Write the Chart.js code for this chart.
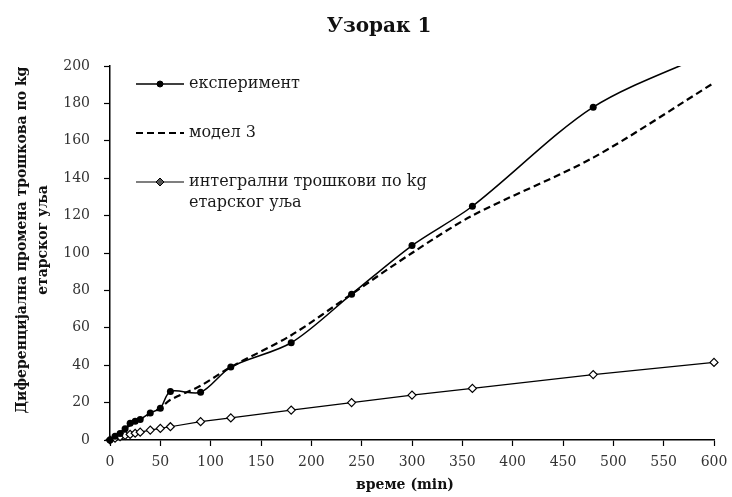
<!DOCTYPE html>
<html>
<head>
<meta charset="utf-8">
<script src="https://cdn.jsdelivr.net/npm/chart.js@4.4.0/dist/chart.umd.min.js"></script>
<style>
  html, body { margin: 0; padding: 0; background: #fff; }
</style>
</head>
<body>
<canvas id="myChart" width="732" height="497"></canvas>
<script>
// time in minutes
const times = [0, 5, 10, 15, 20, 25, 30, 40, 50, 60, 90, 120, 180, 240, 300, 360, 480, 600];
const experiment = [0, 2, 3.5, 6, 9, 10, 11, 14.5, 17, 26, 25.5, 39, 52, 78, 104, 125, 178, 208];
const model3 = [0, 2, 4, 6, 8, 9.5, 11, 14, 17, 21.5, 29, 39, 56, 78, 100, 120, 151, 191];
const integral = [0, 1, 1.8, 2.5, 3, 3.6, 4.2, 5.3, 6.2, 7.1, 9.8, 11.8, 16, 20, 24, 27.6, 35, 41.5];

const seriesLabels = ["експеримент", "модел 3", ["интегрални трошкови по kg", "етарског уља"]];
const xTickLabels = [0, 50, 100, 150, 200, 250, 300, 350, 400, 450, 500, 550, 600];
const yTickLabels = [0, 20, 40, 60, 80, 100, 120, 140, 160, 180, 200];

const chartTitle = "Узорак 1";
const xTitle = "време (min)";
const yTitle = ["Диференцијална промена трошкова по kg", "етарског уља"];

const serif = '"DejaVu Serif", "Liberation Serif", serif';

function points(values) {
  return times.map((t, i) => ({ x: t, y: values[i] }));
}

// title, axis titles and the legend sit inside / around the plot like in Excel
const decorPlugin = {
  id: "decor",
  afterDraw(chart) {
    const ctx = chart.ctx;
    ctx.save();
    ctx.fillStyle = "#111";
    ctx.textAlign = "center";
    ctx.textBaseline = "middle";

    ctx.font = "bold 20px " + serif;
    ctx.fillText(chartTitle, 379, 27);

    ctx.font = "bold 14px " + serif;
    ctx.fillText(xTitle, 405, 485);

    ctx.save();
    ctx.translate(22, 240);
    ctx.rotate(-Math.PI / 2);
    ctx.fillText(yTitle[0], 0, 0);
    ctx.fillText(yTitle[1], 0, 21);
    ctx.restore();

    // legend
    const rows = [84, 133, 182];
    ctx.font = "16px " + serif;
    ctx.textAlign = "left";
    chart.data.datasets.forEach((ds, i) => {
      const y = rows[i];
      ctx.strokeStyle = "#000";
      ctx.lineWidth = ds.borderWidth;
      ctx.setLineDash(ds.borderDash || []);
      ctx.beginPath();
      ctx.moveTo(136, y);
      ctx.lineTo(184, y);
      ctx.stroke();
      ctx.setLineDash([]);
      if (ds.pointRadius > 0) {
        ctx.fillStyle = i === 2 ? "#555" : "#000";
        ctx.strokeStyle = "#000";
        ctx.lineWidth = 1;
        Chart.helpers.drawPoint(ctx, {
          pointStyle: ds.pointStyle,
          radius: i === 2 ? 4 : 3,
          borderWidth: 1,
          rotation: 0
        }, 160, y);
      }
      ctx.fillStyle = "#1a1a1a";
      const lbl = seriesLabels[i];
      if (Array.isArray(lbl)) {
        lbl.forEach((line, k) => ctx.fillText(line, 189, y + k * 21));
      } else {
        ctx.fillText(lbl, 189, y);
      }
    });
    ctx.restore();
  }
};

const ctx = document.getElementById("myChart").getContext("2d");
const myChart = new Chart(ctx, {
  type: "line",
  data: {
    datasets: [
      {
        label: "експеримент",
        data: points(experiment),
        borderColor: "#000",
        backgroundColor: "#000",
        borderWidth: 1.5,
        pointStyle: "circle",
        pointRadius: 3.5,
        pointBackgroundColor: "#000",
        pointBorderWidth: 0,
        tension: 0.3,
        clip: { left: 10, right: 10, top: 0, bottom: 10 }
      },
      {
        label: "модел 3",
        data: points(model3),
        borderColor: "#000",
        borderWidth: 2.2,
        borderDash: [7, 4],
        pointRadius: 0,
        tension: 0.3,
        clip: { left: 10, right: 10, top: 0, bottom: 10 }
      },
      {
        label: "интегрални трошкови",
        data: points(integral),
        borderColor: "#000",
        borderWidth: 1.2,
        pointStyle: "rectRot",
        pointRadius: 4,
        pointBackgroundColor: "#fff",
        pointBorderColor: "#000",
        pointBorderWidth: 1.2,
        tension: 0,
        clip: { left: 10, right: 10, top: 0, bottom: 10 }
      }
    ]
  },
  options: {
    responsive: false,
    animation: false,
    layout: { padding: { left: 0, right: 18, top: 66, bottom: 0 } },
    plugins: {
      legend: { display: false },
      title: { display: false },
      tooltip: { enabled: false }
    },
    scales: {
      x: {
        type: "linear",
        min: 0,
        max: 600,
        afterFit: scale => {
          scale.height = 57;
          scale.paddingLeft = 0;
          scale.paddingRight = 0;
        },
        afterBuildTicks: scale => { scale.ticks = xTickLabels.map(v => ({ value: v })); },
        border: { display: true, color: "#000", width: 1.5 },
        grid: { display: true, drawOnChartArea: false, drawTicks: true, tickLength: 6, tickColor: "#000", tickWidth: 1.2 },
        ticks: { color: "#333", padding: 8, maxRotation: 0, font: { family: serif, size: 14 } }
      },
      y: {
        type: "linear",
        min: 0,
        max: 200,
        afterFit: scale => {
          scale.width = 110;
          scale.paddingTop = 0;
          scale.paddingBottom = 0;
        },
        afterBuildTicks: scale => { scale.ticks = yTickLabels.map(v => ({ value: v })); },
        border: { display: true, color: "#000", width: 1.5 },
        grid: { display: true, drawOnChartArea: false, drawTicks: true, tickLength: 6, tickColor: "#000", tickWidth: 1.2 },
        ticks: { color: "#333", padding: 14, font: { family: serif, size: 14 } }
      }
    }
  },
  plugins: [decorPlugin]
});
</script>
</body>
</html>
